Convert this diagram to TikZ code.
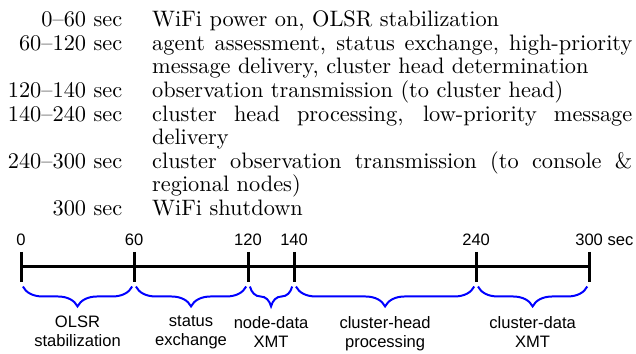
\documentclass[tikz,border=0pt]{standalone}
\usepackage{fontspec}
\usepackage{array}
\usetikzlibrary{calc,decorations.pathreplacing}
\newfontfamily\labelfont{Liberation Sans}
\newfontfamily\schedfont{Latin Modern Roman}[OpticalSize=10,Ligatures=TeX]

\tikzset{
  axis/.style={line width=1.8pt},
  ticks/.style={line width=1.8pt},
  ticklabel/.style={anchor=base,inner sep=0pt,font=\labelfont\fontsize{10}{12}\selectfont},
  timebrace/.style={draw=blue,line width=1.2pt,decorate,decoration={brace,amplitude=12pt}},
  phase/.style={anchor=north,inner sep=0pt,align=center,font=\labelfont\fontsize{10}{11.5}\selectfont}
}

\begin{document}
\begin{tikzpicture}
\useasboundingbox (0,0) rectangle (13.5,7.514);

% schedule of the run
\node[anchor=base west,inner sep=0pt,font=\schedfont\fontsize{13.5}{14.2}\selectfont] (schedule) at (0.16,6.947) {%
\begin{tabular}[t]{@{}r@{\hspace{18.1pt}}p{290pt}@{}}
0--60 sec & WiFi power on, OLSR stabilization\\
60--120 sec & agent assessment, status exchange, high-priority\linebreak message delivery, cluster head determination\\
120--140 sec & observation transmission (to cluster head)\\
140--240 sec & cluster head processing, low-priority message\linebreak delivery\\
240--300 sec & cluster observation transmission (to console \&\linebreak regional nodes)\\
300 sec & WiFi shutdown
\end{tabular}};

% time axis
\coordinate (t0) at (0.446,1.852);
\coordinate (t60) at (2.845,1.852);
\coordinate (t120) at (5.265,1.852);
\coordinate (t140) at (6.242,1.852);
\coordinate (t240) at (10.106,1.852);
\coordinate (t300) at (12.505,1.852);

\draw[axis] (t0) -- (t300);
\foreach \t in {0,60,120,140,240}
  \draw[ticks] ($(t\t)+(0,0.318)$) -- ($(t\t)+(0,-0.318)$)
    node[ticklabel] (l\t) at ($(t\t)+(0,0.448)$) {\t};
\draw[ticks] ($(t300)+(0,0.318)$) -- ($(t300)+(0,-0.318)$);
\node[ticklabel] (l300) at ($(t300)+(0,0.448)$) {300\rlap{\ sec}};

% phases
\foreach \a/\b/\n/\txt in {0/60/olsr/{OLSR\\stabilization},
                           60/120/status/{status\\exchange},
                           120/140/nodexmt/{node-data\\XMT},
                           140/240/headproc/{cluster-head\\processing},
                           240/300/clusterxmt/{cluster-data\\XMT}}
{
  \draw[timebrace] ($(t\b)+(-0.04,-0.42)$) -- ($(t\a)+(0.04,-0.42)$);
  \node[phase] (\n) at ($(t\a)!0.5!(t\b)+(0,-1.041)$) {\txt};
}

\end{tikzpicture}
\end{document}
